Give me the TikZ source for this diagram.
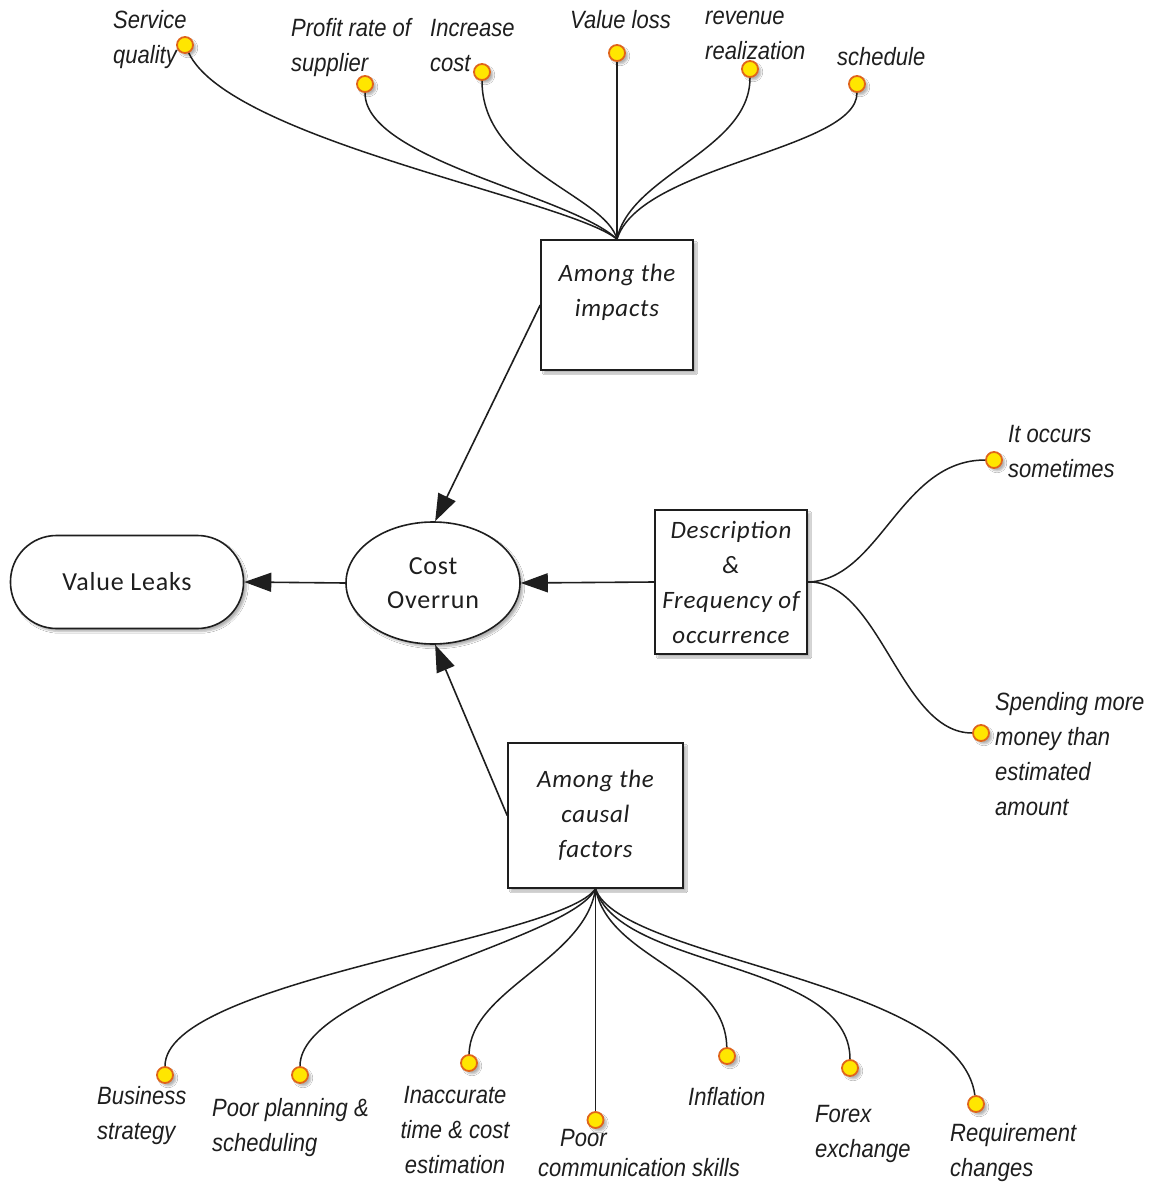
\documentclass[tikz,border=0pt]{standalone}
\usepackage{fontspec}
\usetikzlibrary{arrows.meta,shapes.geometric,shadows.blur}
\newfontfamily\leaffont[FakeStretch=0.88]{Liberation Sans}
\newfontfamily\boxfont[LetterSpace=3]{Carlito}
\definecolor{dotfill}{HTML}{FFE600}
\definecolor{dotrim}{HTML}{E0651A}
\definecolor{ink}{HTML}{1E1E1E}

\begin{document}
\begin{tikzpicture}[x=1pt,y=-1pt,
  leaf/.style={font=\leaffont\itshape\fontsize{25}{35}\selectfont, inner sep=0pt, align=left, text=ink},
  boxlabel/.style={font=\boxfont\itshape\fontsize{25}{35}\selectfont, text=ink, align=center},
  softshadow/.style={blur shadow={shadow blur steps=6, shadow xshift=3pt, shadow yshift=-3pt, shadow opacity=30}},
  topic/.style={boxlabel, draw=ink, line width=1.6pt, fill=white, inner sep=0pt, softshadow},
  dot/.style={circle, fill=dotfill, draw=dotrim, line width=1.8pt, minimum size=16pt, inner sep=0pt, softshadow},
  twig/.style={draw=ink, line width=1.5pt},
  feed/.style={draw=ink, line width=1.6pt, -{Triangle[length=27pt,width=19pt]}}
]
\useasboundingbox[fill=white] (0,0) rectangle (1155,1185);

% central nodes
\node[draw=ink, line width=1.6pt, fill=white, rounded corners=46pt,
      minimum width=233pt, minimum height=93pt, inner sep=0pt,
      font=\boxfont\fontsize{26}{34}\selectfont, text=ink, softshadow] (vl) at (127,582) {Value Leaks};
\node[ellipse, draw=ink, line width=1.6pt, fill=white, minimum width=174pt, minimum height=122pt,
      inner sep=0pt, font=\boxfont\fontsize{26}{34}\selectfont, text=ink, align=center, softshadow]
      (cost) at (433,583) {Cost\\Overrun};
\node[topic, minimum width=152pt, minimum height=130pt,
      label={[boxlabel, yshift=13pt]center:Among the\\impacts}] (imp) at (617,305) {};
\node[topic, minimum width=152pt, minimum height=144pt] (desc) at (731,582)
      {Description\\\&\\Frequency of\\occurrence};
\node[topic, minimum width=175pt, minimum height=145pt] (caus) at (595.5,815.5)
      {Among the\\causal\\factors};

% arrows into the cost node
\draw[feed] (cost.west) -- (vl.east);
\draw[feed] (desc.west) -- (cost.east);
\draw[feed] (imp.west) -- (cost.88);
\draw[feed] (caus.west) -- (cost.-88);

% impacts
\node[dot] (sqd) at (185,45) {};
\node[leaf, anchor=north west] (sqt) at (113,4) {\strut Service\\quality};
\node[dot] (prd) at (365,84) {};
\node[leaf, anchor=north west] (prt) at (291,12) {\strut Profit rate of\\supplier};
\node[dot] (icd) at (482,72) {};
\node[leaf, anchor=north west] (ict) at (430,12) {\strut Increase\\cost};
\node[dot] (vld) at (617,53) {};
\node[leaf, anchor=north west] (vlt) at (570,4) {\strut Value loss};
\node[dot] (rvd) at (750,69) {};
\node[leaf, anchor=north west] (rvt) at (705,0) {\strut revenue\\realization};
\node[dot] (scd) at (857,84) {};
\node[leaf, anchor=north west] (sct) at (837,41) {\strut schedule};

\draw[twig] (sqd) .. controls (230,140) and (570,200) .. (imp.north);
\draw[twig] (prd) .. controls (365,160) and (570,195) .. (imp.north);
\draw[twig] (icd) .. controls (482,170) and (605,195) .. (imp.north);
\draw[twig] (vld) -- (imp.north);
\draw[twig] (rvd) .. controls (750,150) and (630,175) .. (imp.north);
\draw[twig] (scd) .. controls (857,150) and (640,165) .. (imp.north);

% description and frequency
\node[dot] (ocd) at (994,460) {};
\node[leaf, anchor=north west] (oct) at (1008,418) {\strut It occurs\\sometimes};
\node[dot] (spd) at (981,733) {};
\node[leaf, anchor=north west] (spt) at (995,686) {\strut Spending more\\money than\\estimated\\amount};

\draw[twig] (desc.east) .. controls (880,580) and (900,460) .. (ocd);
\draw[twig] (desc.east) .. controls (880,580) and (900,733) .. (spd);

% causal factors
\node[dot] (bsd) at (165,1075) {};
\node[leaf, anchor=north west] (bst) at (97,1080) {\strut Business\\strategy};
\node[dot] (ppd) at (300,1075) {};
\node[leaf, anchor=north west] (ppt) at (212,1092) {\strut Poor planning \&\\scheduling};
\node[dot] (iad) at (469,1063) {};
\node[leaf, anchor=north, align=center] (iat) at (455,1079) {\strut Inaccurate\\time \& cost\\estimation};
\node[dot] (pcd) at (595.5,1120) {};
\node[leaf, anchor=north west] (pct) at (538,1122) {\strut\hspace*{22pt}Poor\\[-5pt]communication skills};
\node[dot] (ifd) at (727,1056) {};
\node[leaf, anchor=north west] (ift) at (688,1081) {\strut Inflation};
\node[dot] (fxd) at (850,1068) {};
\node[leaf, anchor=north west] (fxt) at (815,1098) {\strut Forex\\exchange};
\node[dot] (rqd) at (976,1104) {};
\node[leaf, anchor=north west] (rqt) at (950,1117) {\strut Requirement\\changes};

\draw[twig] (caus.south) .. controls (560,940) and (165,980) .. (bsd);
\draw[twig] (caus.south) .. controls (570,940) and (300,990) .. (ppd);
\draw[twig] (caus.south) .. controls (585,960) and (470,990) .. (iad);
\draw[twig] (caus.south) -- (pcd);
\draw[twig] (caus.south) .. controls (610,960) and (725,970) .. (ifd);
\draw[twig] (caus.south) .. controls (620,970) and (850,960) .. (fxd);
\draw[twig] (caus.south) .. controls (620,960) and (960,980) .. (rqd);
\end{tikzpicture}
\end{document}
